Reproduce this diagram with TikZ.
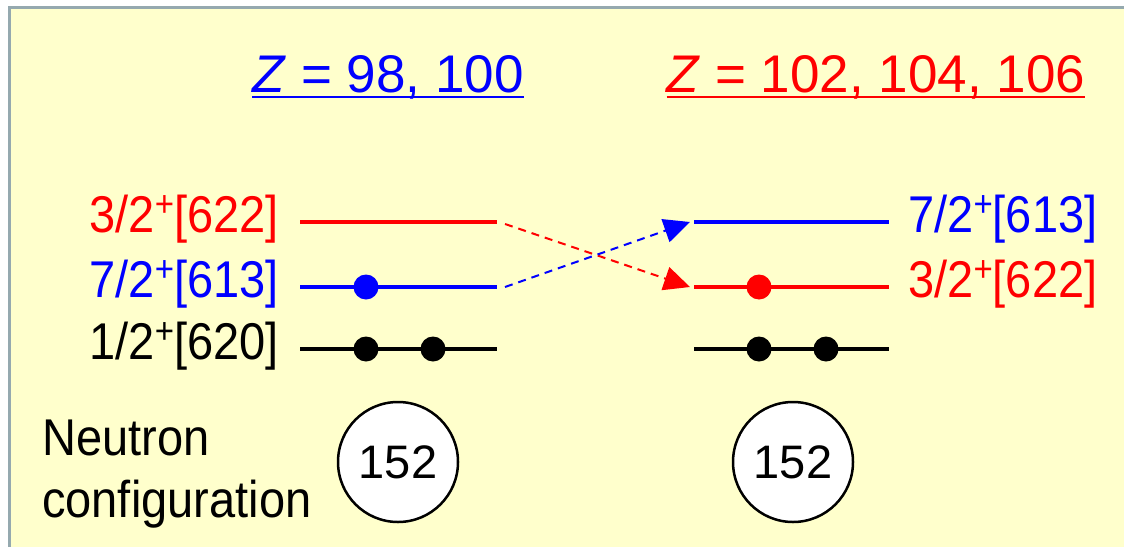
\documentclass[tikz,border=0pt]{standalone}
\usepackage{fontspec}
\setmainfont{Liberation Sans}
\usetikzlibrary{positioning, arrows.meta}
\definecolor{paper}{HTML}{FFFFCC}
\definecolor{framegray}{HTML}{95A9AF}
\newcommand{\plussup}{\raisebox{0.3em}{\fontsize{33}{33}\selectfont +}}

\begin{document}
\begin{tikzpicture}[x=1pt, y=-1pt,
    lvl/.style={line width=3.5pt},
    dot/.style={circle, fill, inner sep=0pt, minimum size=25pt},
    lbl/.style={font=\fontsize{47}{50}\selectfont, inner sep=0pt, yscale=1.1},
    ttl/.style={font=\fontsize{53}{56}\selectfont, inner sep=0pt},
    num/.style={draw, circle, fill=white, line width=2.5pt, minimum size=120pt, inner sep=0pt, font=\fontsize{47}{50}\selectfont},
    arr/.style={-{Triangle[length=26pt, width=24pt]}, dash pattern=on 8pt off 6pt, line width=2pt}]
    \useasboundingbox (0,0) rectangle (1124,546);
    \fill[white] (0,0) rectangle (1124,546);
    \draw[framegray, fill=paper, line width=3pt] (9,7) rectangle (1140,560);

    % titles
    \node[ttl, blue, anchor=base] (zlo) at (388,92) {\textit{Z} = 98, 100};
    \node[ttl, red, anchor=base]  (zhi) at (876,92) {\textit{Z} = 102, 104, 106};
    \draw[blue, line width=2.5pt] ([yshift=-5pt]zlo.base west) -- ([yshift=-5pt]zlo.base east);
    \draw[red, line width=2.5pt] ([yshift=-5pt]zhi.base west) -- ([yshift=-5pt]zhi.base east);

    % levels, left side
    \coordinate (a622) at (300,222); \coordinate (b622) at (497,222);
    \coordinate (a613) at (300,287); \coordinate (b613) at (497,287);
    \coordinate (a620) at (300,349); \coordinate (b620) at (497,349);
    \draw[lvl, red]   (a622) -- (b622);
    \draw[lvl, blue]  (a613) -- (b613);
    \draw[lvl, black] (a620) -- (b620);
    \node[lbl, red, anchor=east]   (la622) at (279,219) {3/2\plussup[622]};
    \node[lbl, blue, anchor=east]  (la613) at (279,284) {7/2\plussup[613]};
    \node[lbl, black, anchor=east] (la620) at (279,346) {1/2\plussup[620]};
    \node[dot, blue] (n1) at (366,287) {};
    \node[dot] (n2) at (366,349) {};
    \node[dot] (n3) at (433,349) {};

    % levels, right side
    \coordinate (c613) at (694,222); \coordinate (d613) at (889,222);
    \coordinate (c622) at (694,287); \coordinate (d622) at (889,287);
    \coordinate (c620) at (694,349); \coordinate (d620) at (889,349);
    \draw[lvl, blue]  (c613) -- (d613);
    \draw[lvl, red]   (c622) -- (d622);
    \draw[lvl, black] (c620) -- (d620);
    \node[lbl, blue, anchor=west] (lc613) at (908,219) {7/2\plussup[613]};
    \node[lbl, red, anchor=west]  (lc622) at (908,284) {3/2\plussup[622]};
    \node[dot, red] (m1) at (759,287) {};
    \node[dot] (m2) at (759,349) {};
    \node[dot] (m3) at (826,349) {};

    % crossing
    \draw[arr, red]  (b622) ++(8,2) coordinate (s1) (s1) -- ([xshift=-4pt]c622);
    \draw[arr, blue] (b613) ++(8,0) coordinate (s2) (s2) -- ([xshift=-4pt]c613);

    % neutron numbers
    \node[lbl, anchor=north west, align=left, font=\fontsize{47}{56}\selectfont] (cfg) at (42,420) {Neutron\\configuration};
    \node[num] (g1) at (398,462) {152};
    \node[num] (g2) at (793,462) {152};
  \end{tikzpicture}
\end{document}
